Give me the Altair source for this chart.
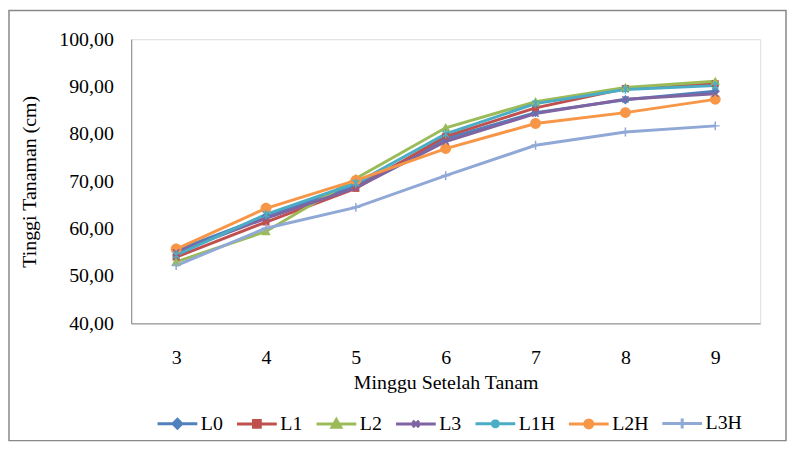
import altair as alt
import pandas as pd

weeks = [3, 4, 5, 6, 7, 8, 9]
series = ["L0", "L1", "L2", "L3", "L1H", "L2H", "L3H"]
L0 = [55.4, 62.6, 69.0, 79.0, 84.5, 87.2, 89.0]
L1 = [54.0, 61.4, 68.5, 79.5, 85.5, 89.6, 90.6]
L2 = [53.0, 59.4, 70.6, 81.3, 86.8, 89.8, 91.1]
L3 = [55.0, 62.2, 68.6, 78.4, 84.3, 87.3, 88.5]
L1H = [54.4, 63.0, 69.6, 80.0, 86.4, 89.4, 90.2]
L2H = [55.7, 64.3, 70.2, 76.9, 82.2, 84.5, 87.3]
L3H = [52.2, 60.1, 64.5, 71.2, 77.6, 80.4, 81.7]
colors = ["#4F81BD", "#C0504D", "#9BBB59", "#8064A2", "#4BACC6", "#F79646", "#8FA8D6"]
y_ticks = [40, 50, 60, 70, 80, 90, 100]

values = [L0, L1, L2, L3, L1H, L2H, L3H]
rows = []
for s, vals in zip(series, values):
    for w, v in zip(weeks, vals):
        rows.append({"week": w, "series": s, "value": v})
df = pd.DataFrame(rows)

FONT = "Liberation Serif"

# marker shapes used on the plotted points
chart_shapes = [
    "M0,-1L1,0L0,1L-1,0Z",
    "M-0.75,-0.75H0.75V0.75H-0.75Z",
    "M0,-1L1,0.8H-1Z",
    "M-0.7,-0.7L0.7,0.7M-0.7,0.7L0.7,-0.7",
    "M-0.7,-0.7L0.7,0.7M-0.7,0.7L0.7,-0.7M0,-1V1",
    "M-1.15,0A1.15,1.15,0,1,0,1.15,0A1.15,1.15,0,1,0,-1.15,0Z",
    "M-1,0H1M0,-1V1",
]
# legend symbols: a line with the marker in its middle
LN = "M-1,0H1"
legend_shapes = [
    LN + "M0,-0.22L0.22,0L0,0.22L-0.22,0Z",
    LN + "M-0.17,-0.17H0.17V0.17H-0.17Z",
    LN + "M0,-0.22L0.22,0.17H-0.22Z",
    LN + "M-0.16,-0.16L0.16,0.16M-0.16,0.16L0.16,-0.16",
    LN + "M-0.16,-0.16L0.16,0.16M-0.16,0.16L0.16,-0.16M0,-0.22V0.22",
    LN + "M-0.2,0A0.2,0.2,0,1,0,0.2,0A0.2,0.2,0,1,0,-0.2,0Z",
    LN + "M0,-0.25V0.25",
]

x_enc = alt.X(
    "week:O",
    title="Minggu Setelah Tanam",
    axis=alt.Axis(
        labelAngle=0,
        ticks=False,
        tickSize=0,
        grid=False,
        domainColor="#868686",
        labelFont=FONT,
        labelFontSize=20,
        labelColor="black",
        labelPadding=24,
        titleFont=FONT,
        titleFontSize=20,
        titleFontWeight="normal",
        titleColor="black",
        titlePadding=6,
    ),
)
y_enc = alt.Y(
    "value:Q",
    title="Tinggi Tanaman (cm)",
    scale=alt.Scale(domain=[40, 100], nice=False, zero=False),
    axis=alt.Axis(
        values=y_ticks,
        labelExpr="replace(format(datum.value, '.2f'), '.', ',')",
        ticks=False,
        tickSize=0,
        grid=False,
        domainColor="#868686",
        labelFont=FONT,
        labelFontSize=20,
        labelColor="black",
        labelPadding=18,
        titleFont=FONT,
        titleFontSize=20,
        titleFontWeight="normal",
        titleColor="black",
        titlePadding=19,
    ),
)

color_scale = alt.Scale(domain=series, range=colors)

base = alt.Chart(df)

border = alt.Chart(pd.DataFrame({"a": [0]})).mark_rect(
    filled=False, stroke="#888888", strokeWidth=1.5
).encode(
    x=alt.value(-123),
    x2=alt.value(659),
    y=alt.value(-29),
    y2=alt.value(404),
)

lines = base.mark_line(strokeWidth=3).encode(
    x=x_enc,
    y=y_enc,
    color=alt.Color("series:N", scale=color_scale, legend=None),
    order=alt.Order("week:O"),
)

filled_pts = base.transform_filter(
    alt.FieldOneOfPredicate(field="series", oneOf=["L0", "L1", "L2", "L2H"])
).mark_point(filled=True, opacity=1, size=90).encode(
    x="week:O",
    y="value:Q",
    color=alt.Color("series:N", scale=color_scale, legend=None),
    shape=alt.Shape("series:N", scale=alt.Scale(domain=series, range=chart_shapes), legend=None),
)

open_pts = base.transform_filter(
    alt.FieldOneOfPredicate(field="series", oneOf=["L3", "L1H", "L3H"])
).mark_point(filled=False, opacity=1, size=80, strokeWidth=1.5).encode(
    x="week:O",
    y="value:Q",
    color=alt.Color("series:N", scale=color_scale, legend=None),
    shape=alt.Shape("series:N", scale=alt.Scale(domain=series, range=chart_shapes), legend=None),
)

leg = alt.Legend(
    title=None,
    orient="none",
    direction="horizontal",
    legendX=25,
    legendY=365,
    symbolSize=1600,
    symbolStrokeWidth=3,
    labelFont=FONT,
    labelFontSize=20,
    labelColor="black",
    labelOffset=2,
    columnPadding=7,
    padding=0,
)

legend_layer = base.mark_point(filled=True, opacity=1, strokeWidth=3, clip=True).encode(
    x=alt.value(-3000),
    y=alt.value(-3000),
    fill=alt.Fill("series:N", scale=alt.Scale(domain=series, range=colors), legend=leg),
    stroke=alt.Stroke("series:N", scale=alt.Scale(domain=series, range=colors), legend=leg),
    shape=alt.Shape("series:N", scale=alt.Scale(domain=series, range=legend_shapes), legend=leg),
)

chart = alt.layer(border, lines, filled_pts, open_pts, legend_layer).resolve_scale(
    shape="independent", fill="independent", stroke="independent"
).properties(
    width=633,
    height=286,
    autosize=alt.AutoSizeParams(type="none"),
    padding={"left": 124, "top": 30, "right": 28, "bottom": 121},
).configure_view(stroke=None).configure(background="white")

chart.save("out.html", embed_options={"renderer": "svg", "actions": False})
